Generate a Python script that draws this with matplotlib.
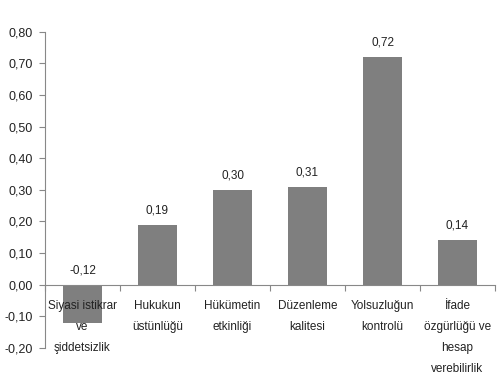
import matplotlib.pyplot as plt
import numpy as np

categories = ["Siyasi istikrar\nve\nşiddetsizlik", "Hukukun\nüstünlüğü", "Hükümetin\netkinliği",
              "Düzenleme\nkalitesi", "Yolsuzluğun\nkontrolü", "İfade\nözgürlüğü ve\nhesap\nverebilirlik"]
values = [-0.12, 0.19, 0.30, 0.31, 0.72, 0.14]
value_labels = ["-0,12", "0,19", "0,30", "0,31", "0,72", "0,14"]
yticks = [-0.20, -0.10, 0.00, 0.10, 0.20, 0.30, 0.40, 0.50, 0.60, 0.70, 0.80]

plt.rcParams['font.family'] = ['Liberation Sans', 'DejaVu Sans']
fig = plt.figure(figsize=(5, 3.84), dpi=100)
ax = fig.add_axes([0.09, 0.094, 0.9, 0.823])
x = np.arange(len(categories))
ax.bar(x, values, width=0.52, color='#7f7f7f', zorder=2)
ax.set_xlim(-0.5, len(categories) - 0.5)
ax.set_ylim(-0.20, 0.80)
ax.set_yticks(yticks)
ax.set_yticklabels([f"{v:.2f}".replace('.', ',') for v in yticks], fontsize=9, color='#222222')
for xi, v, lab in zip(x, values, value_labels):
    y = max(v, 0) + 0.027
    ax.text(xi, y, lab, ha='center', va='bottom', fontsize=8.5, color='#222222')
for s in ['top', 'right']:
    ax.spines[s].set_visible(False)
ax.spines['bottom'].set_position(('data', 0))
ax.spines['left'].set_color('#888888')
ax.spines['bottom'].set_color('#888888')
ax.set_xticks(np.arange(len(categories) + 1) - 0.5, minor=False)
ax.set_xticklabels([])
ax.tick_params(axis='x', length=4, color='#888888', direction='out')
ax.tick_params(axis='y', length=4, color='#888888', direction='out', pad=5)
for xi, c in zip(x, categories):
    ax.text(xi, -0.05, c, ha='center', va='top', fontsize=8.5, color='#222222', linespacing=2.0)
fig.savefig('out.png', dpi=100)
